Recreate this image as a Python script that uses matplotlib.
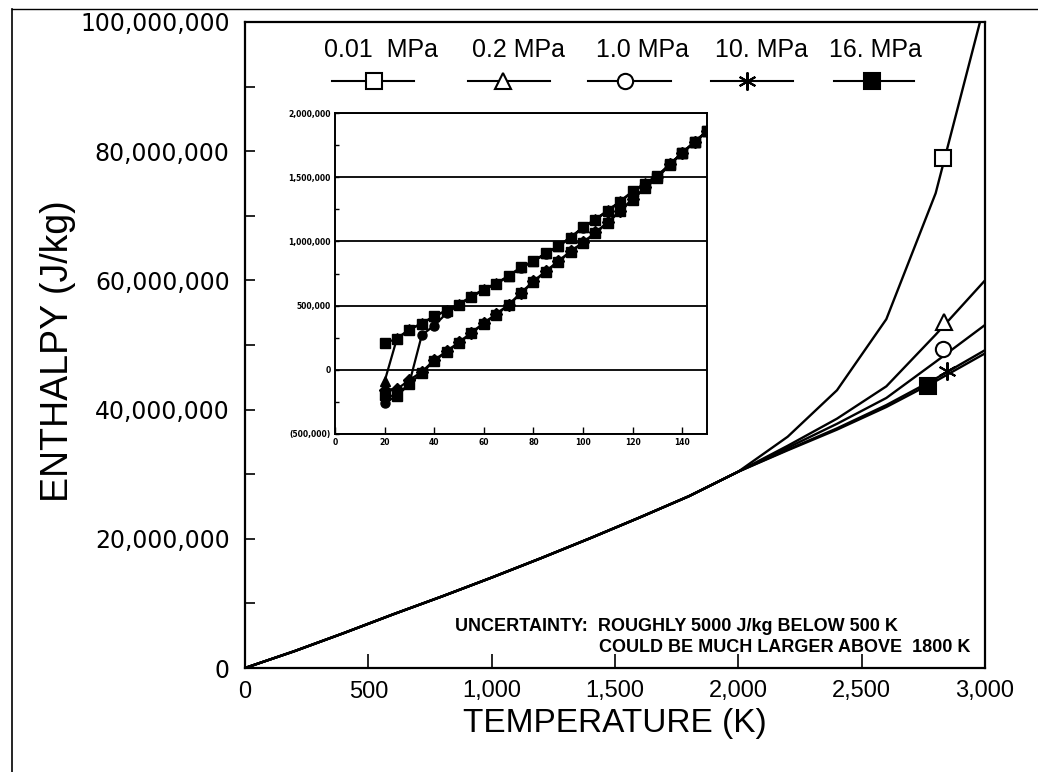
import numpy as np
import matplotlib
matplotlib.use('Agg')
import matplotlib.pyplot as plt
from matplotlib.lines import Line2D
from matplotlib.ticker import FuncFormatter, MultipleLocator

# ---- main chart data (temperature K, enthalpy J/kg) ----
temp = [0, 200, 400, 600, 800, 1000, 1200, 1400, 1600, 1800, 2000,
        2200, 2400, 2600, 2800, 3000]
base = [0, 2.6e6, 5.4e6, 8.3e6, 11.1e6, 14.0e6, 17.0e6, 20.1e6, 23.3e6,
        26.6e6, 30.4e6]
h_001 = base + [35.8e6, 43.0e6, 54.0e6, 73.5e6, 103e6]
h_02 = base + [34.4e6, 38.6e6, 43.6e6, 51.6e6, 60.0e6]
h_10 = base + [34.1e6, 37.8e6, 41.8e6, 47.4e6, 53.1e6]
h_100 = base + [33.8e6, 37.1e6, 40.7e6, 44.8e6, 49.2e6]
h_160 = base + [33.7e6, 36.9e6, 40.4e6, 44.4e6, 48.7e6]

labels = ['0.01  MPa', '0.2 MPa', '1.0 MPa', '10. MPa', '16. MPa']
markers = ['s', '^', 'o', (6, 2, 0), 's']
filled = [False, False, False, False, True]

# symbol positions on the main chart
mark_t = [2830, 2835, 2831, 2844, 2767]
mark_h = [79.0e6, 53.6e6, 49.4e6, 46.0e6, 43.6e6]

# ---- inset data (low temperature) ----
t_in = list(range(20, 155, 5))
i_001 = [211, 240, 312, 360, 416, 461, 508, 570, 625, 672, 729, 797, 846, 906,
         963, 1030, 1110, 1170, 1240, 1310, 1390, 1450, 1510, 1600, 1690, 1775, 1860]
i_02 = [-90, 245, 315, 362, 418, 463, 510, 572, 627, 674, 731, 799, 848, 908,
        965, 1032, 1110, 1172, 1242, 1312, 1390, 1452, 1512, 1600, 1690, 1775, 1860]
i_10 = [-255, -203, -102, 270, 345, 440, 505, 568, 623, 670, 727, 795, 844, 904,
        961, 1028, 1108, 1168, 1238, 1308, 1388, 1448, 1508, 1598, 1688, 1773, 1858]
i_100 = [-155, -150, -80, -15, 75, 145, 215, 290, 365, 435, 508, 600, 690, 768,
         846, 924, 992, 1070, 1150, 1240, 1330, 1420, 1500, 1600, 1690, 1775, 1860]
i_160 = [-200, -205, -110, -25, 70, 140, 210, 285, 360, 430, 503, 595, 685, 763,
         841, 919, 987, 1065, 1145, 1235, 1325, 1415, 1495, 1598, 1688, 1773, 1858]

lib = ['Liberation Sans', 'DejaVu Sans']

fig = plt.figure(figsize=(10.38, 7.72), dpi=100)
ax = fig.add_axes([245/1038, 1 - 668/772, 740/1038, 646/772])

for h in [h_001, h_02, h_10, h_100, h_160]:
    ax.plot(temp, h, color='black', lw=1.7, solid_joinstyle='miter')

for t, h, m, f in zip(mark_t, mark_h, markers, filled):
    ax.plot(t, h, marker=m, ms=11 if m != (6, 2, 0) else 13,
            mfc='black' if f else 'white', mec='black', mew=1.5,
            linestyle='none', zorder=5)

ax.set_xlim(0, 3000)
ax.set_ylim(0, 100e6)
ax.xaxis.set_major_locator(MultipleLocator(500))
ax.yaxis.set_major_locator(MultipleLocator(20e6))
ax.yaxis.set_minor_locator(MultipleLocator(10e6))
ax.xaxis.set_major_formatter(FuncFormatter(lambda v, p: f'{int(v):,}'))
ax.yaxis.set_major_formatter(FuncFormatter(lambda v, p: f'{int(v):,}'))
ax.tick_params(axis='x', direction='in', length=10, width=1.2, pad=9,
               labelsize=17, top=False)
ax.tick_params(axis='y', which='both', direction='in', length=7, width=1.2,
               pad=11, labelsize=17, right=False)
for lab in ax.get_xticklabels():
    lab.set_family(lib)
for s in ax.spines.values():
    s.set_linewidth(1.6)

ax.set_xlabel('TEMPERATURE (K)', fontsize=24, family=lib, labelpad=4)
ax.set_ylabel('ENTHALPY (J/kg)', fontsize=27, family=lib)
ax.yaxis.set_label_coords(-0.228, 0.49)

ax.text(0.284, 0.058, 'UNCERTAINTY:  ROUGHLY 5000 J/kg BELOW 500 K',
        transform=ax.transAxes, fontsize=13, family=lib, weight='bold')
ax.text(0.98, 0.024, 'COULD BE MUCH LARGER ABOVE  1800 K', ha='right',
        transform=ax.transAxes, fontsize=13, family=lib, weight='bold')

# legend drawn above the inset: label on top, line sample below
lab_x = [381, 518, 643, 761, 875]
line_x = [(332, 414), (468, 550), (588, 671), (711, 793), (834, 914)]
sym_x = [374, 503, 625, 747, 872]
for lab, (x0, x1), sx, m, f, lx in zip(labels, line_x, sym_x, markers, filled, lab_x):
    ax.text((lx - 245) / 740, (668 - 50) / 646, lab, transform=ax.transAxes,
            ha='center', va='center', fontsize=18, family=lib)
    yy = (668 - 81) / 646
    ax.plot([(x0 - 245) / 740, (x1 - 245) / 740], [yy, yy], color='black',
            lw=1.5, transform=ax.transAxes)
    ax.plot((sx - 245) / 740, yy, marker=m, ms=11 if m != (6, 2, 0) else 13,
            mfc='black' if f else 'white', mec='black', mew=1.5,
            transform=ax.transAxes)

# ---- inset ----
ins = fig.add_axes([335/1038, 1 - 434/772, 372/1038, 321/772])
ins_markers = ['s', '^', 'o', 'D', 's']
for h, m in zip([i_001, i_02, i_10, i_100, i_160], ins_markers):
    ins.plot(t_in, np.array(h) * 1000, color='black', lw=1.6, marker=m, ms=6.5,
             mfc='black', mec='black')
ins.set_xlim(0, 150)
ins.set_ylim(-500e3, 2e6)
ins.xaxis.set_major_locator(MultipleLocator(20))
ins.yaxis.set_major_locator(MultipleLocator(500e3))
ins.yaxis.set_minor_locator(MultipleLocator(250e3))
ins.grid(axis='y', which='major', color='black', lw=1.3)


def paren(v, p):
    v = int(round(v))
    return f'({-v:,})' if v < 0 else f'{v:,}'


ins.yaxis.set_major_formatter(FuncFormatter(paren))
ins.tick_params(axis='both', which='both', direction='in', labelsize=5.5, pad=3)
ins.tick_params(axis='x', length=5, width=1)
ins.tick_params(axis='y', which='both', length=3, width=1)
for lab in ins.get_xticklabels() + ins.get_yticklabels():
    lab.set_fontweight('bold')
for s in ins.spines.values():
    s.set_linewidth(1.4)

# outer frame lines (left and top)
fig.add_artist(Line2D([12/1038, 12/1038], [0, 1 - 9/772], color='black', lw=1.2))
fig.add_artist(Line2D([12/1038, 1], [1 - 9/772, 1 - 9/772], color='black', lw=1.0))

fig.savefig('out.png', dpi=100)
